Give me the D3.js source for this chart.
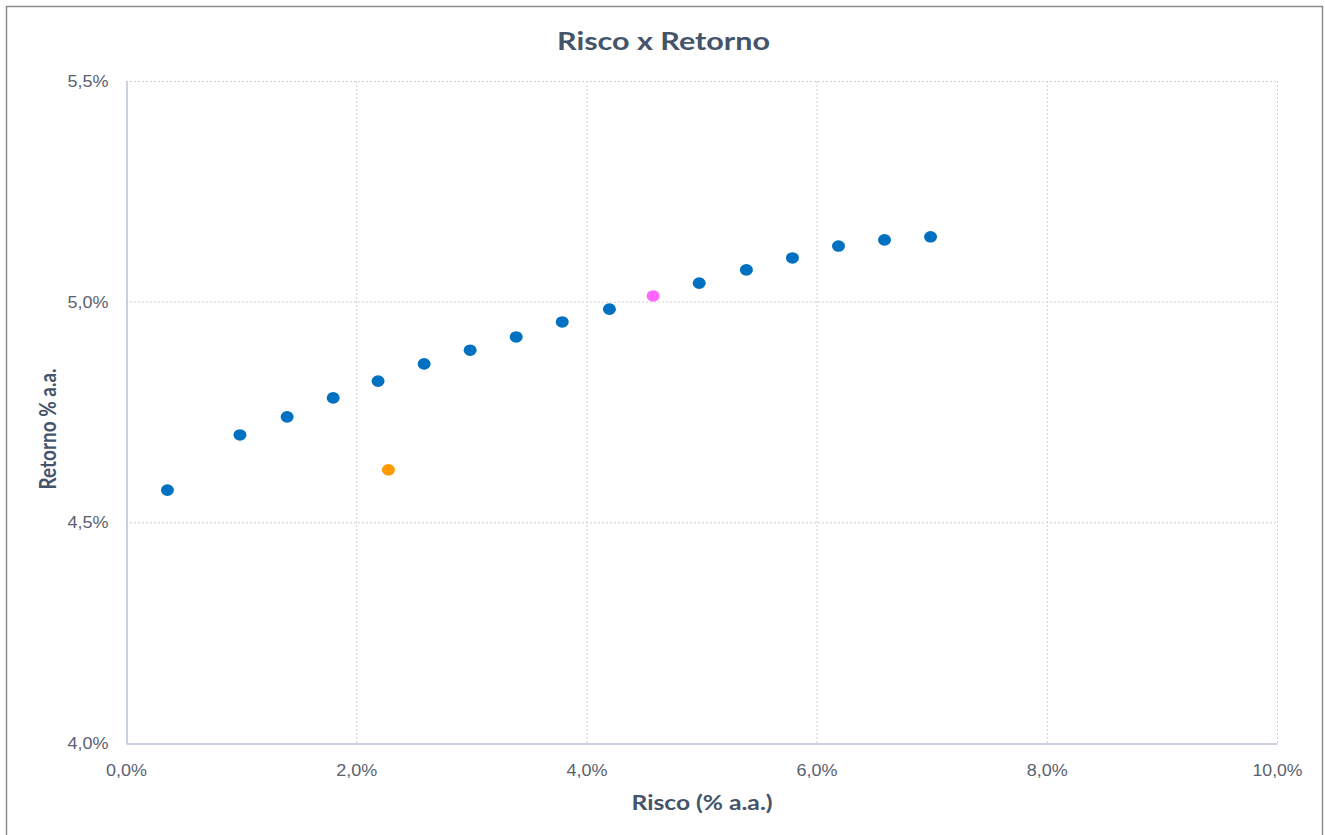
<!DOCTYPE html>
<html>
<head>
<meta charset="utf-8">
<script src="https://cdn.jsdelivr.net/npm/d3@7"></script>
<style>
  body { margin: 0; background: #fff; }
  svg { display: block; font-family: Lato, "Open Sans", sans-serif; }
  .grid line { stroke: #d0d0d0; stroke-dasharray: 2,2; }
  .tick text { fill: #5a6170; font-size: 17px; }
</style>
</head>
<body>
<svg></svg>
<script>
// dados (valores em %)
const fronteiraRisco = [0.36, 0.99, 1.40, 1.80, 2.19, 2.59, 2.99, 3.39, 3.79, 4.20, 4.98, 5.39, 5.79, 6.19, 6.59, 6.99];
const fronteiraRetorno = [4.573, 4.698, 4.739, 4.782, 4.820, 4.859, 4.890, 4.920, 4.954, 4.983, 5.042, 5.072, 5.099, 5.126, 5.140, 5.147];
const carteiraRosaRisco = [4.58];
const carteiraRosaRetorno = [5.013];
const carteiraLaranjaRisco = [2.28];
const carteiraLaranjaRetorno = [4.619];
const xTicks = [0, 2, 4, 6, 8, 10];
const yTicks = [4.0, 4.5, 5.0, 5.5];

const width = 1325;
const height = 835;
const svg = d3.select('svg').attr('width', width).attr('height', height);

// moldura externa
svg.append('rect')
  .attr('x', 6.5).attr('y', 6.5)
  .attr('width', 1316).attr('height', 840)
  .attr('fill', 'none')
  .attr('stroke', '#8c8c8c')
  .attr('stroke-width', 1.5);

const plot = { left: 126, top: 81, right: 1277, bottom: 743 };

const x = d3.scaleLinear().domain([0, 10]).range([plot.left, plot.right]);
const y = d3.scaleLinear().domain([4.0, 5.5]).range([plot.bottom, plot.top]);

const fmt = d => d3.format('.1f')(d).replace('.', ',') + '%';
// largura do rótulo (a fonte original é mais larga)
const labelWidth = t => (t.length > 4 ? 50 : 41);

// grade
const grid = svg.append('g').attr('class', 'grid');
grid.selectAll('.gx').data(xTicks.slice(1)).enter().append('line')
  .attr('x1', d => x(d) + 0.5).attr('x2', d => x(d) + 0.5)
  .attr('y1', plot.top).attr('y2', plot.bottom);
grid.selectAll('.gy').data(yTicks.slice(1)).enter().append('line')
  .attr('x1', plot.left).attr('x2', plot.right)
  .attr('y1', d => y(d) + 0.5).attr('y2', d => y(d) + 0.5);

// eixos
const xAxis = svg.append('g')
  .attr('transform', `translate(0,${plot.bottom + 0.5})`)
  .call(d3.axisBottom(x).tickValues(xTicks).tickFormat(fmt).tickSize(0).tickPadding(20));
xAxis.select('.domain').attr('stroke', '#b9c3d3').attr('stroke-width', 1.5);

const yAxis = svg.append('g')
  .attr('transform', `translate(${plot.left + 0.5},0)`)
  .call(d3.axisLeft(y).tickValues(yTicks).tickFormat(fmt).tickSize(0).tickPadding(18));
yAxis.select('.domain').attr('stroke', '#b9c3d3').attr('stroke-width', 1.5);

svg.selectAll('.tick text')
  .attr('textLength', function () { return labelWidth(this.textContent); })
  .attr('lengthAdjust', 'spacingAndGlyphs');

// pontos
function drawSeries(xs, ys, color) {
  svg.append('g').selectAll('ellipse')
    .data(xs.map((v, i) => ({ x: v, y: ys[i] })))
    .enter()
    .append('ellipse')
    .attr('cx', d => x(d.x))
    .attr('cy', d => y(d.y))
    .attr('rx', 6.5)
    .attr('ry', 5.8)
    .attr('fill', color);
}
drawSeries(fronteiraRisco, fronteiraRetorno, '#0070c0');
drawSeries(carteiraRosaRisco, carteiraRosaRetorno, '#ff66ff');
drawSeries(carteiraLaranjaRisco, carteiraLaranjaRetorno, '#ff9900');

// títulos
svg.append('text')
  .attr('x', 663.5).attr('y', 50)
  .attr('text-anchor', 'middle')
  .attr('font-size', 24).attr('font-weight', 'bold')
  .attr('fill', '#44546a')
  .attr('textLength', 213).attr('lengthAdjust', 'spacingAndGlyphs')
  .text('Risco x Retorno');

svg.append('text')
  .attr('x', 702).attr('y', 810)
  .attr('text-anchor', 'middle')
  .attr('font-size', 21).attr('font-weight', 'bold')
  .attr('fill', '#44546a')
  .attr('textLength', 141).attr('lengthAdjust', 'spacingAndGlyphs')
  .text('Risco (% a.a.)');

svg.append('text')
  .attr('transform', 'translate(56,429) rotate(-90)')
  .attr('text-anchor', 'middle')
  .attr('font-size', 22).attr('font-weight', 'bold')
  .attr('fill', '#44546a')
  .attr('textLength', 121).attr('lengthAdjust', 'spacingAndGlyphs')
  .text('Retorno % a.a.');
</script>
</body>
</html>
